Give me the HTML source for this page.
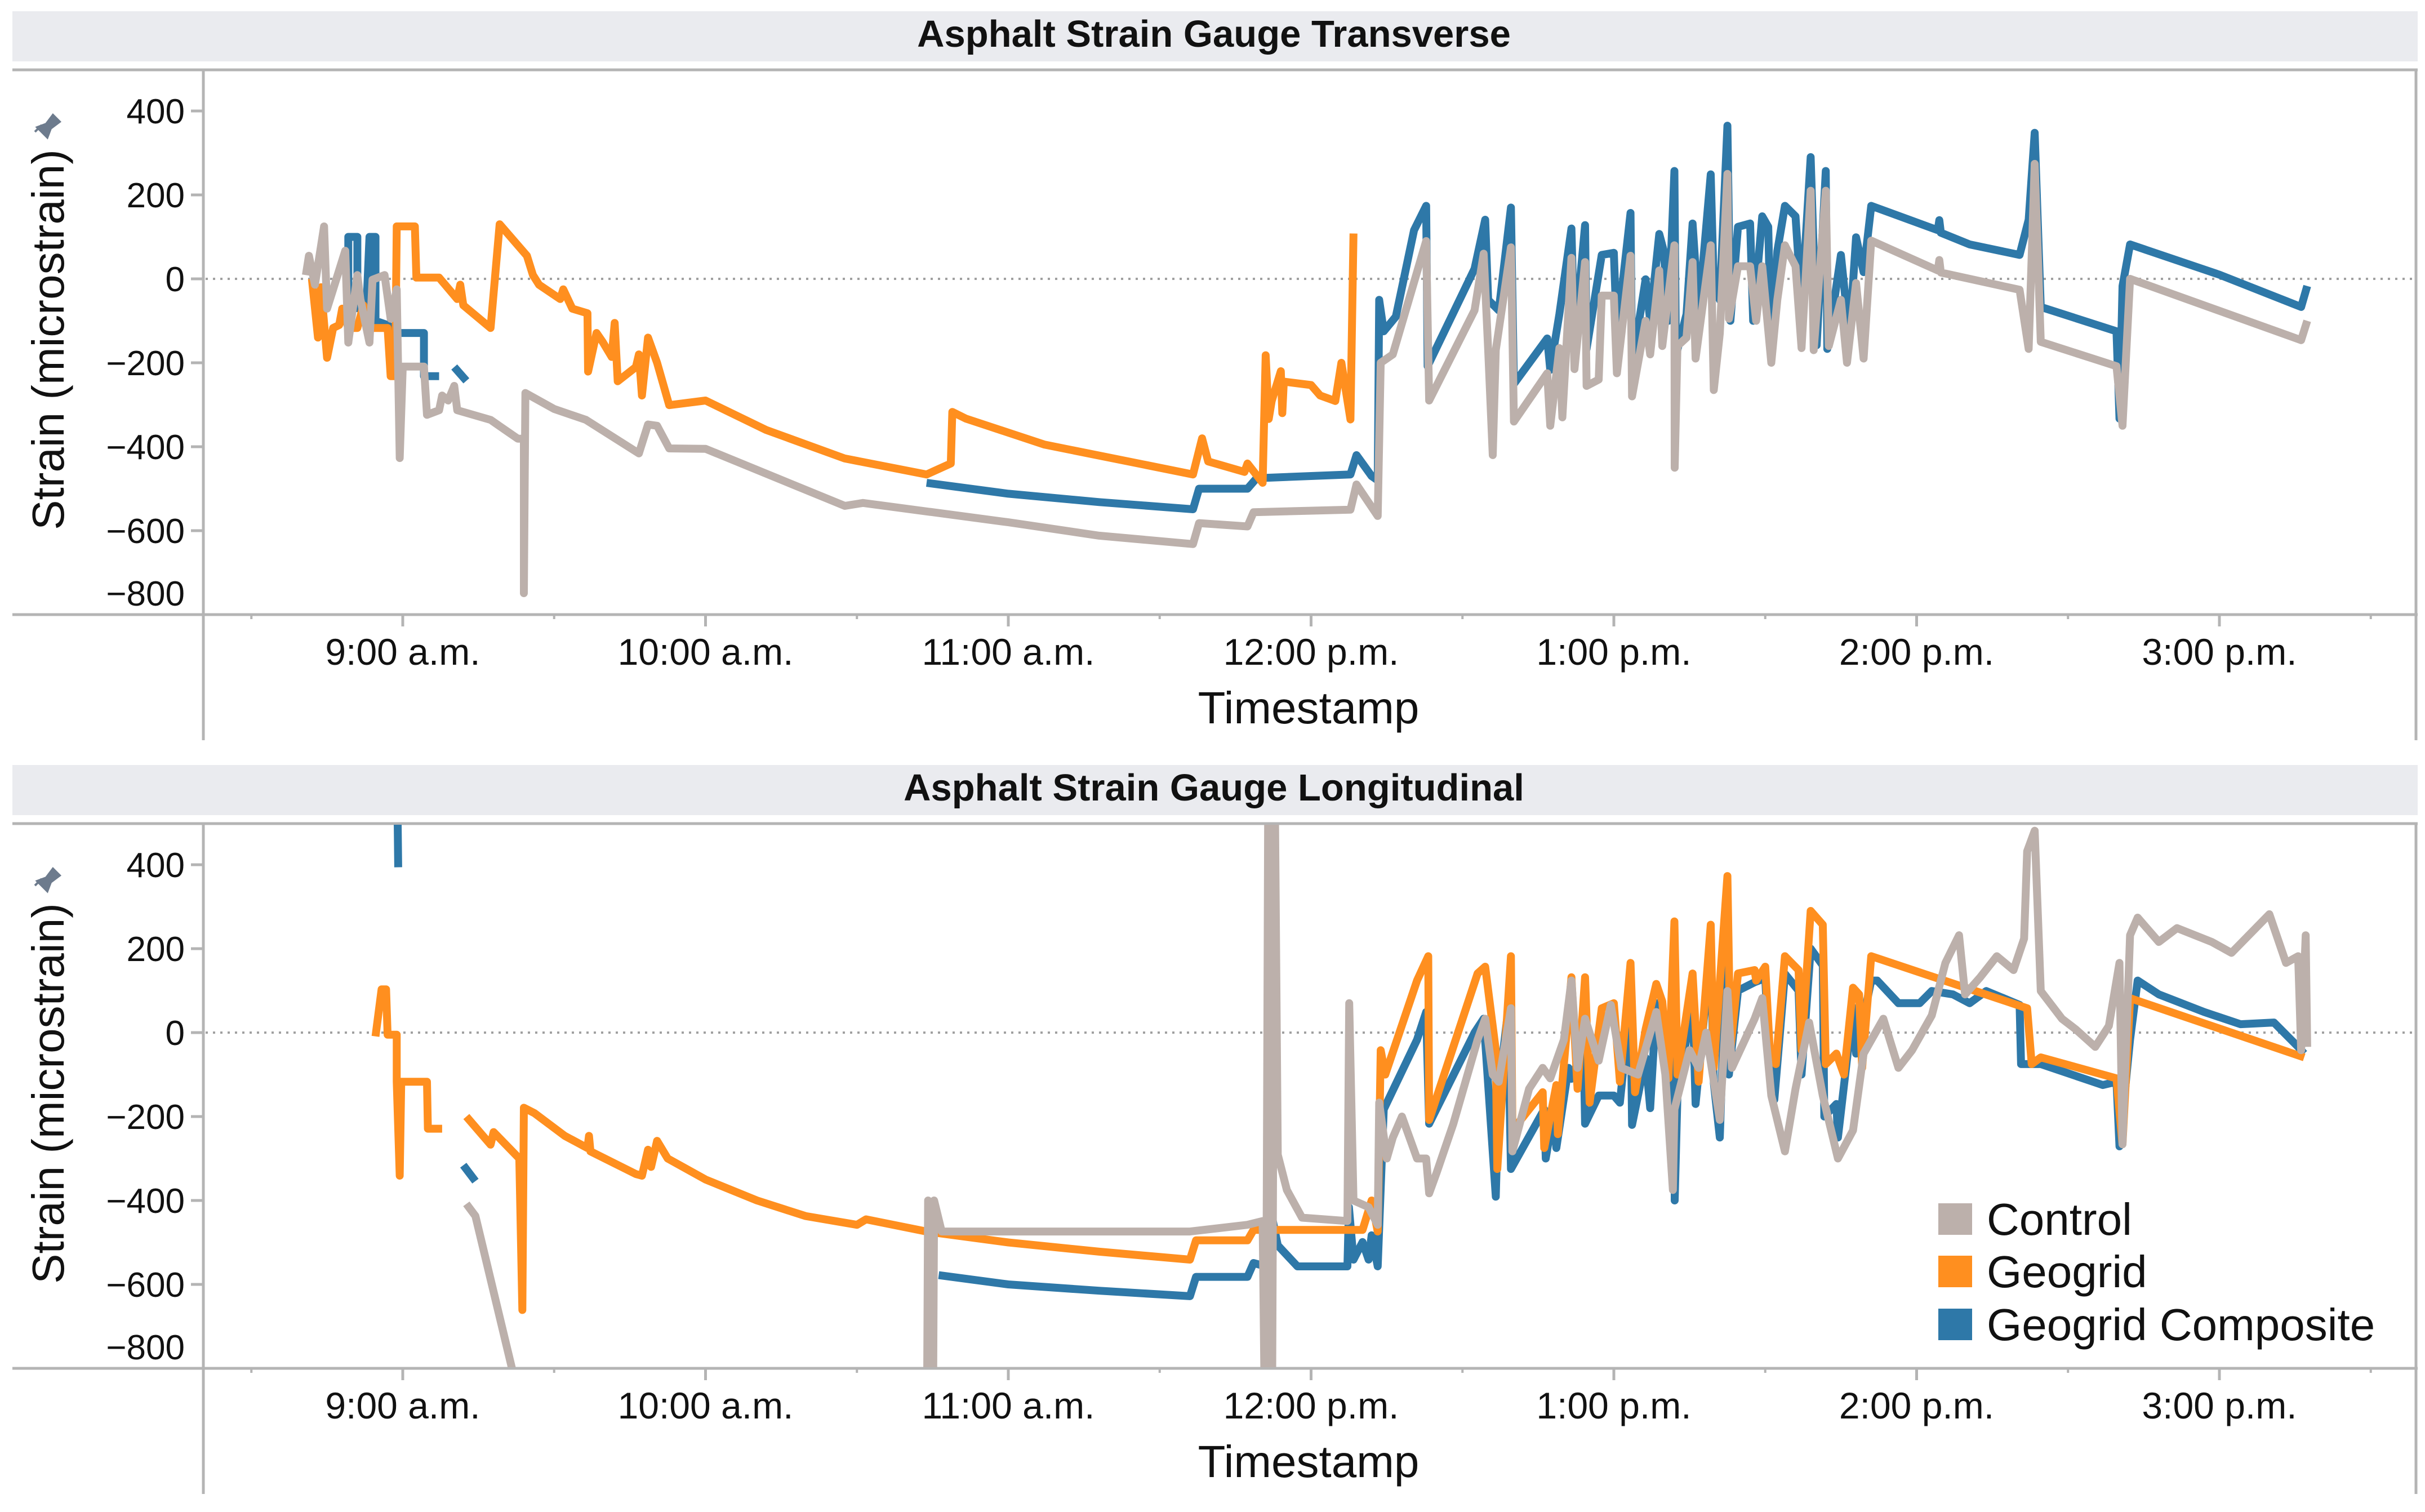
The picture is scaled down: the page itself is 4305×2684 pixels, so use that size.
<!DOCTYPE html>
<html><head><meta charset="utf-8"><style>
html,body{margin:0;padding:0;background:#fff;}
svg{display:block;}
text{font-family:"Liberation Sans",Arial,sans-serif;fill:#111;}
</style></head><body>
<svg id="chart" width="4305" height="2684" viewBox="0 0 4305 2684" xmlns="http://www.w3.org/2000/svg">
<defs>
<clipPath id="clipTop"><rect x="363" y="126" width="3925" height="963"/></clipPath>
<clipPath id="clipBot"><rect x="363" y="1464" width="3925" height="963"/></clipPath>
</defs>
<g id="axes"></g>
<g id="series"></g>
<g id="legend">
<rect x="3441" y="2136" width="60" height="56" fill="#bcb0ab"/>
<text x="3527" y="2192" font-size="80">Control</text>
<rect x="3441" y="2229" width="60" height="56" fill="#ff8f1f"/>
<text x="3527" y="2285" font-size="80">Geogrid</text>
<rect x="3441" y="2323" width="60" height="56" fill="#2e78a8"/>
<text x="3527" y="2379" font-size="80">Geogrid Composite</text>
</g>
</svg>
<script>
const yTicks=[400,200,0,-200,-400,-600,-800];
const xTickHours=[9,10,11,12,13,14,15];
const xTickLabels=["9:00 a.m.","10:00 a.m.","11:00 a.m.","12:00 p.m.","1:00 p.m.","2:00 p.m.","3:00 p.m."];
const panelTitles=["Asphalt Strain Gauge Transverse","Asphalt Strain Gauge Longitudinal"];

const transverseComposite=[[8.82,-70],[8.82,100],[8.85,100],[8.85,-70],[8.88,-70],[8.89,100],[8.91,100],[8.91,-100],[8.95,-110],[8.99,-129],[9.07,-129],[9.07,-232],[9.12,-232],null,[9.17,-210],[9.21,-243],null,
[10.73,-486],[11.0,-512],[11.3,-532],[11.61,-549],[11.63,-500],[11.79,-500],[11.82,-475],[12.13,-466],[12.15,-420],[12.2,-470],[12.22,-480],[12.225,-50],[12.24,-125],[12.28,-90],[12.34,116],[12.38,174],[12.385,-208],[12.54,24],[12.575,141],[12.585,-50],[12.62,-75],[12.66,170],[12.67,-250],[12.78,-142],[12.79,-217],[12.82,-84],[12.86,120],[12.87,-150],[12.905,128],[12.91,-167],[12.96,57],[13.0,62],[13.01,-134],[13.055,157],[13.06,-208],[13.105,-1],[13.12,-100],[13.15,107],[13.165,66],[13.18,-100],[13.2,257],[13.205,-183],[13.24,-84],[13.26,132],[13.28,-84],[13.32,249],[13.33,-17],[13.35,-50],[13.375,365],[13.385,-100],[13.41,124],[13.45,132],[13.46,-100],[13.49,149],[13.51,124],[13.52,-192],[13.54,66],[13.565,174],[13.6,149],[13.62,-67],[13.65,290],[13.67,-158],[13.7,257],[13.705,-167],[13.75,57],[13.77,-84],[13.78,-117],[13.8,99],[13.825,16],[13.85,174],[14.07,116],[14.075,140],[14.08,110],[14.175,82],[14.34,57],[14.37,141],[14.39,348],[14.41,-67],[14.66,-125],[14.67,-333],[14.68,-17],[14.705,82],[15.0,10],[15.27,-67],[15.29,-17]];

const transverseGeogrid=[[8.70,0],[8.72,-140],[8.73,-20],[8.75,-188],[8.77,-117],[8.79,-110],[8.80,-71],[8.82,-117],[8.85,-117],[8.87,-63],[8.88,-117],[8.95,-117],[8.96,-232],[8.975,-232],[8.98,125],[9.04,125],[9.045,3],[9.12,3],[9.18,-48],[9.19,-14],[9.2,-63],[9.29,-117],[9.32,130],[9.41,55],[9.43,9],[9.45,-14],[9.52,-48],[9.53,-25],[9.56,-71],[9.61,-82],[9.612,-221],[9.64,-129],[9.66,-150],[9.69,-186],[9.70,-105],[9.71,-244],[9.77,-210],[9.78,-180],[9.79,-278],[9.81,-140],[9.84,-200],[9.88,-301],[10.0,-290],[10.2,-360],[10.46,-428],[10.73,-466],[10.81,-440],[10.815,-317],[10.86,-333],[11.12,-395],[11.61,-466],[11.64,-380],[11.66,-435],[11.78,-460],[11.79,-440],[11.84,-486],[11.85,-182],[11.86,-334],[11.87,-291],[11.9,-220],[11.905,-320],[11.91,-245],[12.0,-253],[12.03,-278],[12.08,-291],[12.1,-200],[12.13,-335],[12.14,108]];

const transverseControl=[[8.68,9],[8.69,55],[8.71,-14],[8.74,125],[8.75,-71],[8.77,-25],[8.81,67],[8.82,-152],[8.85,9],[8.86,-48],[8.89,-152],[8.90,-2],[8.94,9],[8.96,-95],[8.98,-25],[8.99,-427],[9.0,-209],[9.07,-209],[9.08,-324],[9.12,-313],[9.13,-278],[9.15,-290],[9.17,-255],[9.18,-313],[9.29,-336],[9.38,-381],[9.40,-381],[9.40,-749],[9.405,-272],[9.5,-310],[9.605,-336],[9.78,-416],[9.81,-347],[9.84,-350],[9.88,-404],[10.0,-405],[10.46,-541],[10.52,-534],[11.0,-580],[11.3,-612],[11.61,-632],[11.63,-582],[11.79,-590],[11.81,-556],[12.13,-550],[12.15,-490],[12.22,-565],[12.23,-200],[12.27,-180],[12.38,90],[12.39,-290],[12.54,-75],[12.57,60],[12.585,-170],[12.60,-420],[12.61,-170],[12.66,75],[12.67,-340],[12.78,-225],[12.79,-350],[12.82,-165],[12.83,-330],[12.86,50],[12.87,-215],[12.905,40],[12.91,-255],[12.95,-240],[12.96,-40],[13.0,-40],[13.01,-225],[13.055,55],[13.06,-280],[13.105,-100],[13.12,-180],[13.15,20],[13.16,-160],[13.2,80],[13.201,-450],[13.21,-160],[13.24,-140],[13.26,40],[13.27,-190],[13.32,80],[13.33,-265],[13.35,-130],[13.375,250],[13.38,-95],[13.41,30],[13.45,30],[13.47,-100],[13.49,30],[13.52,-200],[13.54,-50],[13.565,80],[13.6,30],[13.62,-165],[13.65,210],[13.66,-170],[13.7,210],[13.71,-160],[13.75,-50],[13.77,-200],[13.8,-10],[13.825,-190],[13.85,91],[14.07,20],[14.075,45],[14.08,15],[14.34,-26],[14.37,-167],[14.39,274],[14.41,-150],[14.66,-208],[14.68,-350],[14.705,0],[15.27,-146],[15.29,-100]];

const longitudinalComposite=[[8.98,700],[8.985,394],null,[9.20,-316],[9.24,-354],null,[10.74,-647],[10.745,-640],null,[10.77,-578],[11.0,-600],[11.3,-615],[11.6,-628],[11.62,-582],[11.79,-582],[11.81,-549],[11.85,-557],[11.86,-400],[11.89,-507],[11.955,-557],[12.12,-557],[12.125,-416],[12.14,-541],[12.17,-499],[12.19,-541],[12.2,-483],[12.22,-557],[12.24,-183],[12.35,-17],[12.38,49],[12.39,-217],[12.54,0],[12.57,33],[12.585,-125],[12.61,-391],[12.62,-134],[12.65,49],[12.66,-325],[12.77,-183],[12.775,-300],[12.80,-192],[12.81,-275],[12.85,-84],[12.86,-110],[12.90,-34],[12.905,-217],[12.95,-150],[13.0,-150],[13.02,-167],[13.055,80],[13.06,-220],[13.105,-60],[13.12,-180],[13.14,70],[13.18,-150],[13.2,200],[13.201,-400],[13.21,-150],[13.26,80],[13.27,-170],[13.32,200],[13.33,-120],[13.35,-250],[13.375,280],[13.38,-100],[13.41,100],[13.465,120],[13.5,130],[13.515,-100],[13.53,-160],[13.565,140],[13.61,100],[13.62,-100],[13.65,200],[13.69,160],[13.695,-200],[13.735,-170],[13.74,-250],[13.79,60],[13.8,-50],[13.85,124],[13.87,124],[13.94,70],[14.01,70],[14.05,99],[14.12,91],[14.175,70],[14.23,99],[14.34,66],[14.345,-75],[14.41,-75],[14.615,-125],[14.66,-117],[14.67,-271],[14.705,-17],[14.73,124],[14.80,91],[14.95,49],[15.07,20],[15.18,24],[15.26,-34],[15.28,-50]];

const longitudinalGeogrid=[[8.91,-9],[8.93,103],[8.945,103],[8.95,-5],[8.98,-5],[8.98,-117],[8.99,-341],[8.995,-117],[9.08,-117],[9.083,-229],[9.13,-229],null,[9.21,-200],[9.29,-267],[9.30,-237],[9.385,-300],[9.395,-661],[9.40,-179],[9.435,-192],[9.535,-246],[9.61,-275],[9.615,-246],[9.62,-283],[9.77,-337],[9.79,-341],[9.81,-279],[9.82,-320],[9.84,-258],[9.875,-300],[10.0,-350],[10.17,-400],[10.33,-437],[10.5,-458],[10.53,-445],[10.73,-474],[11.0,-500],[11.3,-522],[11.6,-541],[11.62,-495],[11.79,-495],[11.81,-470],[12.17,-470],[12.2,-400],[12.22,-474],[12.23,-42],[12.245,-100],[12.35,124],[12.387,182],[12.39,-208],[12.55,141],[12.575,157],[12.61,-42],[12.615,-325],[12.66,182],[12.665,-233],[12.765,-142],[12.77,-275],[12.81,-125],[12.815,-242],[12.86,132],[12.88,-134],[12.905,132],[12.92,-167],[12.96,58],[13.0,70],[13.02,-117],[13.055,166],[13.07,-142],[13.105,8],[13.14,116],[13.16,74],[13.18,-109],[13.2,265],[13.21,-100],[13.26,141],[13.28,-117],[13.32,257],[13.33,-84],[13.375,373],[13.385,-42],[13.41,141],[13.465,149],[13.47,124],[13.5,157],[13.515,-42],[13.535,-75],[13.565,182],[13.61,149],[13.62,-42],[13.65,290],[13.69,257],[13.7,-75],[13.735,-50],[13.76,-100],[13.79,107],[13.81,91],[13.82,-84],[13.85,182],[14.365,58],[14.38,-75],[14.41,-59],[14.66,-109],[14.68,-266],[14.705,82],[15.28,-59]];

const longitudinalControl=[[9.21,-408],[9.24,-437],[9.36,-798],[9.45,-1100],null,[10.73,-1100],[10.735,-400],[10.75,-1100],[10.755,-400],[10.78,-474],[11.0,-474],[11.3,-474],[11.6,-474],[11.79,-458],[11.84,-449],[11.85,-1100],[11.86,900],[11.87,-1100],[11.88,600],[11.89,-291],[11.92,-375],[11.97,-441],[12.12,-449],[12.126,70],[12.14,-400],[12.19,-416],[12.22,-458],[12.225,-167],[12.25,-300],[12.27,-250],[12.30,-200],[12.35,-300],[12.38,-300],[12.39,-383],[12.415,-333],[12.47,-217],[12.55,-17],[12.575,33],[12.60,-100],[12.62,-117],[12.66,58],[12.665,-283],[12.72,-134],[12.765,-84],[12.79,-109],[12.835,-17],[12.86,124],[12.88,-84],[12.905,33],[12.95,-67],[12.99,66],[13.025,-84],[13.08,-100],[13.14,49],[13.17,-100],[13.195,-375],[13.2,-183],[13.25,-42],[13.28,-84],[13.305,0],[13.35,-208],[13.375,99],[13.39,-84],[13.465,33],[13.49,82],[13.52,-150],[13.565,-283],[13.6,-134],[13.645,24],[13.69,-150],[13.74,-300],[13.79,-233],[13.825,-50],[13.89,33],[13.94,-84],[13.985,-42],[14.05,41],[14.095,166],[14.14,232],[14.16,91],[14.21,132],[14.265,182],[14.32,149],[14.355,224],[14.365,432],[14.39,481],[14.41,99],[14.48,33],[14.525,8],[14.59,-34],[14.635,16],[14.67,166],[14.68,-266],[14.705,232],[14.73,274],[14.80,216],[14.86,249],[14.975,216],[15.04,190],[15.165,282],[15.22,166],[15.26,182],[15.27,-42],[15.285,232],[15.29,-34]];

const NS="http://www.w3.org/2000/svg";
const COL={control:"#bcb0ab",geogrid:"#ff8f1f",composite:"#2e78a8"};
const PANEL_OFF=[0,1338];
function xS(h){return 715+(h-9)*537.5;}
function yS(v,p){return 495-v*0.745+PANEL_OFF[p];}
function mk(tag,attrs,parent){const e=document.createElementNS(NS,tag);for(const k in attrs)e.setAttribute(k,attrs[k]);parent.appendChild(e);return e;}

const axes=document.getElementById("axes");
const series=document.getElementById("series");
for(let p=0;p<2;p++){
  const o=PANEL_OFF[p];
  const bar=mk("rect",{x:22,y:20+o,width:4270,height:89,fill:"#eaebef"},axes);
  
  
  const t=mk("text",{x:2155,y:83+o,"font-size":67,"font-weight":"bold","text-anchor":"middle"},axes);
  t.textContent=panelTitles[p];
  
  
  mk("line",{x1:22,x2:4292,y1:124+o,y2:124+o,stroke:"#b4b4b4","stroke-width":5},axes);
  mk("line",{x1:22,x2:4292,y1:1091+o,y2:1091+o,stroke:"#b4b4b4","stroke-width":5},axes);
  const ya=mk("line",{x1:361,x2:361,y1:124+o,y2:1314+o,stroke:"#b4b4b4","stroke-width":5},axes);
  
  
  mk("line",{x1:4289,x2:4289,y1:124+o,y2:1314+o,stroke:"#b4b4b4","stroke-width":5},axes);
  const zl=mk("line",{x1:365,x2:4286,y1:yS(0,p),y2:yS(0,p),stroke:"#a0a0a0","stroke-width":4,"stroke-dasharray":"4 9"},axes);
  
  
  yTicks.forEach(v=>{
    const y=yS(v,p);
    mk("line",{x1:339,x2:361,y1:y,y2:y,stroke:"#b4b4b4","stroke-width":5},axes);
    const ly=(v===-800)?y-38:y;
    const lb=mk("text",{x:328,y:ly+22,"font-size":62,"text-anchor":"end"},axes);
    lb.textContent=(v<0?"\u2212"+(-v):String(v));
    
    
  });
  xTickHours.forEach((h,i)=>{
    const x=xS(h);
    mk("line",{x1:x,x2:x,y1:1091+o,y2:1112+o,stroke:"#b4b4b4","stroke-width":5},axes);
    mk("line",{x1:xS(h+0.5),x2:xS(h+0.5),y1:1091+o,y2:1099+o,stroke:"#b4b4b4","stroke-width":4},axes);
    const lb=mk("text",{x:x,y:1180+o,"font-size":66,"text-anchor":"middle"},axes);
    lb.textContent=xTickLabels[i];
    
    
  });
  mk("line",{x1:xS(8.5),x2:xS(8.5),y1:1091+o,y2:1099+o,stroke:"#b4b4b4","stroke-width":4},axes);
  const xt=mk("text",{x:2323,y:1284+o,"font-size":80,"text-anchor":"middle"},axes);
  xt.textContent="Timestamp";
  
  
  const yt=mk("text",{x:0,y:0,"font-size":80,"text-anchor":"middle",transform:"translate(113,"+(603+o)+") rotate(-90)"},axes);
  yt.textContent="Strain (microstrain)";
  
  
  const pin=mk("path",{d:"M66 "+(226+o)+" l16 -6 l12 -16 l12 12 l-16 12 l-6 16 z M74 "+(222+o)+" l-12 12",fill:"#6d7b8d",stroke:"#6d7b8d","stroke-width":4},axes);
  
  
}

function drawSeries(data,p,color,name){
  let d="",pen=false;
  data.forEach(pt=>{
    if(pt===null){pen=false;return;}
    d+=(pen?"L":"M")+xS(pt[0]).toFixed(1)+" "+yS(pt[1],p).toFixed(1)+" ";
    pen=true;
  });
  const path=mk("path",{d:d,fill:"none",stroke:color,"stroke-width":14,"stroke-linejoin":"round","stroke-linecap":"butt","clip-path":p===0?"url(#clipTop)":"url(#clipBot)"},series);
  
  
}
drawSeries(transverseComposite,0,COL.composite,'transverse-geogrid-composite-line');
drawSeries(transverseGeogrid,0,COL.geogrid,'transverse-geogrid-line');
drawSeries(transverseControl,0,COL.control,'transverse-control-line');
drawSeries(longitudinalComposite,1,COL.composite,'longitudinal-geogrid-composite-line');
drawSeries(longitudinalGeogrid,1,COL.geogrid,'longitudinal-geogrid-line');
drawSeries(longitudinalControl,1,COL.control,'longitudinal-control-line');
</script>
</body></html>
